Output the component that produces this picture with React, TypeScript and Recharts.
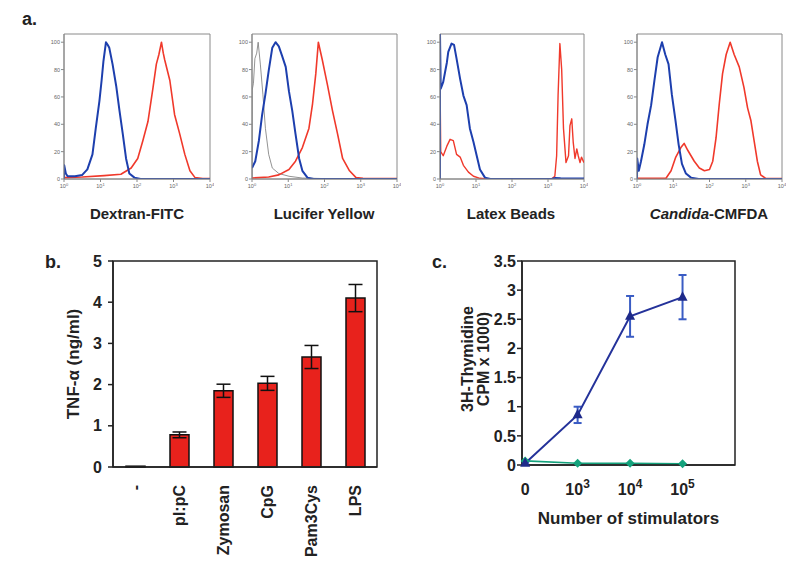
import React from 'react';
import { LineChart, Line, XAxis, YAxis, BarChart, Bar, ErrorBar, ReferenceArea } from 'recharts';

type Pt = [number, number];

// ---- panel a: flow histograms (x = log10 intensity, y = % of max) ----
const decadeTicks = [0, 1, 2, 3, 4];
const countTicks = [0, 20, 40, 60, 80, 100];

const dextranBlue: Pt[] = [
  [0, 0], [0.005, 10], [0.05, 4], [0.1, 2], [0.3, 2], [0.5, 3], [0.64, 7], [0.78, 18], [0.87, 37],
  [0.97, 57], [1.03, 72], [1.08, 86], [1.15, 100], [1.2, 98], [1.24, 96], [1.33, 84], [1.43, 68],
  [1.52, 50], [1.61, 33], [1.7, 15], [1.79, 4], [1.93, 1], [2.1, 0], [4, 0],
];
const dextranRed: Pt[] = [
  [0, 1], [0.5, 1.5], [1.1, 2.5], [1.56, 3.5], [1.84, 8], [2.02, 15], [2.16, 28], [2.3, 42],
  [2.44, 67], [2.53, 84], [2.6, 91], [2.67, 100], [2.72, 92], [2.76, 87], [2.9, 72], [3.03, 47],
  [3.17, 33], [3.31, 18], [3.45, 6], [3.59, 1], [3.8, 0.3], [4, 0.3],
];
const luciferGray: Pt[] = [
  [0, 0], [0.005, 65], [0.04, 70], [0.08, 88], [0.13, 92], [0.17, 100], [0.23, 84], [0.3, 62],
  [0.37, 37], [0.46, 18], [0.56, 8], [0.74, 4], [1.02, 2], [1.39, 0.7], [2, 0.3], [4, 0.2],
];
const luciferBlue: Pt[] = [
  [0, 8], [0.09, 13], [0.19, 28], [0.28, 47], [0.37, 62], [0.46, 79], [0.56, 96], [0.65, 100],
  [0.74, 97], [0.83, 90], [0.93, 82], [1.02, 64], [1.11, 50], [1.2, 33], [1.3, 15], [1.39, 6],
  [1.53, 1], [1.7, 0], [4, 0],
];
const luciferRed: Pt[] = [
  [0, 0.7], [0.46, 1.5], [0.74, 3], [1.02, 7], [1.2, 13], [1.39, 23], [1.57, 37], [1.67, 55],
  [1.76, 77], [1.83, 100], [1.94, 87], [2.08, 69], [2.22, 50], [2.36, 33], [2.5, 15], [2.69, 6],
  [2.87, 1], [3.06, 0.5], [4, 0.3],
];
const latexBlue: Pt[] = [
  [0, 0], [0, 106], [0.02, 66], [0.05, 68], [0.09, 71], [0.14, 78], [0.19, 85], [0.23, 93],
  [0.32, 99], [0.39, 98], [0.46, 88], [0.56, 73], [0.65, 61], [0.74, 54], [0.83, 37], [0.93, 27],
  [1.02, 17], [1.11, 7], [1.25, 1], [1.4, 0], [3.1, 0], [3.2, 0.8], [3.35, 0.5], [4, 0.3],
];
const latexRed: Pt[] = [
  [0, 0], [0, 73], [0.02, 20], [0.09, 17], [0.19, 24], [0.28, 29], [0.37, 28], [0.46, 18],
  [0.56, 16], [0.65, 10], [0.79, 5], [0.93, 2], [1.11, 0.5], [1.3, 0], [3.1, 0], [3.19, 2],
  [3.24, 17], [3.28, 61], [3.33, 99], [3.38, 80], [3.43, 37], [3.5, 12], [3.57, 17], [3.61, 39],
  [3.66, 44], [3.7, 27], [3.75, 15], [3.8, 22], [3.84, 17], [3.89, 12], [3.93, 16], [4, 12],
];
const candidaBlue: Pt[] = [
  [0, 0], [0.005, 15], [0.05, 6], [0.11, 13], [0.2, 25], [0.29, 40], [0.39, 54], [0.48, 72],
  [0.57, 89], [0.69, 100], [0.78, 91], [0.87, 84], [0.96, 62], [1.06, 43], [1.15, 25], [1.24, 11],
  [1.35, 4], [1.49, 1], [1.7, 0], [4, 0],
];
const candidaRed: Pt[] = [
  [0, 0.5], [0.8, 0.5], [0.94, 6], [1.07, 16], [1.21, 23], [1.3, 26], [1.4, 21], [1.49, 17],
  [1.58, 13], [1.72, 8], [1.86, 6], [2.0, 7], [2.09, 13], [2.18, 30], [2.27, 55], [2.36, 77],
  [2.46, 91], [2.57, 100], [2.68, 91], [2.82, 82], [2.95, 67], [3.05, 52], [3.14, 43], [3.23, 28],
  [3.32, 13], [3.41, 3], [3.55, 0.5], [4, 0.3],
];

// ---- panel b: TNF-alpha ----
const stimuli = ['-', 'pI:pC', 'Zymosan', 'CpG', 'Pam3Cys', 'LPS'];
const tnf = [0.02, 0.78, 1.85, 2.03, 2.67, 4.1];
const tnfErr = [0, 0.07, 0.16, 0.17, 0.28, 0.33];
const tnfTicks = [0, 1, 2, 3, 4, 5];

// ---- panel c: proliferation ----
const stimulatorIdx = [0, 1, 2, 3];
const stimulatorLabels = ['0', '3', '4', '5']; // exponents, '0' shown plain
const cpmBlue = [0.03, 0.86, 2.55, 2.88];
const cpmBlueErr = [0.02, 0.14, 0.35, 0.38];
const cpmGreen = [0.07, 0.03, 0.03, 0.02];
const cpmTicks = [0, 0.5, 1, 1.5, 2, 2.5, 3, 3.5];

const BLUE = '#1d3fae';
const RED = '#f0392b';
const FONT = '"Liberation Sans", Arial, sans-serif';

const toXY = (pts: Pt[]) => pts.map(([x, y]) => ({ x, y }));

const DecadeTick = (props: any) => {
  const { x, y, payload } = props;
  return (
    <text x={x} y={y + 5} textAnchor="middle" fontSize={5.5} fill="#666" fontFamily={FONT}>
      10<tspan dy={-2.5} fontSize={4}>{payload.value}</tspan>
    </text>
  );
};

interface FlowSeries {
  pts: Pt[];
  color: string;
  width: number;
}

const FlowPanel: React.FC<{ left: number; top: number; w: number; h: number; series: FlowSeries[] }> = ({
  left, top, w, h, series,
}) => (
  <div style={{ position: 'absolute', left: left - 30, top: top - 4 }}>
    <LineChart width={w + 34} height={h + 24} margin={{ top: 4, right: 4, left: 0, bottom: 0 }}>
      <XAxis
        dataKey="x" type="number" domain={[0, 4]} ticks={decadeTicks} height={20}
        tick={<DecadeTick />} tickSize={3} tickMargin={1} stroke="#888" allowDataOverflow
      />
      <YAxis
        type="number" domain={[0, 106]} ticks={countTicks} width={30} allowDataOverflow
        tick={{ fontSize: 5.5, fill: '#666', fontFamily: FONT }} tickSize={3} tickMargin={1} stroke="#888"
      />
      {series.map((s, i) => (
        <Line
          key={i} data={toXY(s.pts)} dataKey="y" stroke={s.color} strokeWidth={s.width}
          dot={false} isAnimationActive={false} strokeLinejoin="round"
        />
      ))}
      <ReferenceArea y1={0} y2={106} fill="none" stroke="#8a8a8a" strokeWidth={1} ifOverflow="visible" />
    </LineChart>
  </div>
);

const StimTick = (props: any) => {
  const { x, y, payload } = props;
  return (
    <text
      x={x} y={y + 10} transform={`rotate(-90 ${x} ${y + 10})`} textAnchor="end" dominantBaseline="central"
      fontSize={16} fontWeight="bold" fill="#222" fontFamily={FONT}
    >
      {payload.value}
    </text>
  );
};

const CountTick = (props: any) => {
  const { x, y, payload } = props;
  const label = stimulatorLabels[payload.value];
  return (
    <text x={x} y={y + 30} textAnchor="middle" fontSize={16} fontWeight="bold" fill="#222" fontFamily={FONT}>
      {label === '0' ? '0' : (
        <>
          10<tspan dy={-7} fontSize={12}>{label}</tspan>
        </>
      )}
    </text>
  );
};

const TnfLabel = (props: any) => {
  const { viewBox } = props;
  const cy = viewBox.y + viewBox.height / 2;
  return (
    <text
      x={33} y={cy} transform={`rotate(-90 33 ${cy})`} textAnchor="middle" dominantBaseline="central"
      fontSize={17} fontWeight="bold" fill="#222" fontFamily={FONT}
    >
      TNF-α (ng/ml)
    </text>
  );
};

const CpmLabel = (props: any) => {
  const { viewBox } = props;
  const cy = viewBox.y + viewBox.height / 2 - 4;
  return (
    <g fontSize={16} fontWeight="bold" fill="#222" fontFamily={FONT}>
      <text x={37} y={cy} transform={`rotate(-90 37 ${cy})`} textAnchor="middle" dominantBaseline="central">
        3H-Thymidine
      </text>
      <text x={53} y={cy} transform={`rotate(-90 53 ${cy})`} textAnchor="middle" dominantBaseline="central">
        CPM x 1000)
      </text>
    </g>
  );
};

const Triangle = (props: any) => {
  const { cx, cy } = props;
  if (cx == null || cy == null) return null;
  return <polygon points={`${cx},${cy - 6} ${cx - 5},${cy + 3.5} ${cx + 5},${cy + 3.5}`} fill="#1e2a8a" />;
};

const Diamond = (props: any) => {
  const { cx, cy } = props;
  if (cx == null || cy == null) return null;
  return <polygon points={`${cx},${cy - 4.5} ${cx + 4.5},${cy} ${cx},${cy + 4.5} ${cx - 4.5},${cy}`} fill="#14a27c" />;
};

const textStyle: React.CSSProperties = {
  position: 'absolute', fontFamily: FONT, fontWeight: 'bold', color: '#222', whiteSpace: 'nowrap',
};

export default function App() {
  const tnfData = stimuli.map((name, i) => ({ name, value: tnf[i], err: tnfErr[i] }));
  const cpmData = stimulatorIdx.map((idx, i) => ({
    idx, blue: cpmBlue[i], blueErr: cpmBlueErr[i], green: cpmGreen[i],
  }));

  return (
    <div style={{ position: 'absolute', left: 0, top: 0, width: 800, height: 564, background: '#fff', overflow: 'hidden' }}>
      <div style={{ ...textStyle, left: 22, top: 9, fontSize: 18 }}>a.</div>
      <div style={{ ...textStyle, left: 45, top: 252, fontSize: 18 }}>b.</div>
      <div style={{ ...textStyle, left: 432, top: 252, fontSize: 18 }}>c.</div>

      <FlowPanel left={64} top={34} w={146} h={145} series={[
        { pts: dextranRed, color: RED, width: 1.6 },
        { pts: dextranBlue, color: BLUE, width: 2 },
      ]} />
      <FlowPanel left={252} top={34} w={145} h={145} series={[
        { pts: luciferGray, color: '#777', width: 0.8 },
        { pts: luciferRed, color: RED, width: 1.6 },
        { pts: luciferBlue, color: BLUE, width: 2 },
      ]} />
      <FlowPanel left={440} top={34} w={144} h={145} series={[
        { pts: latexRed, color: RED, width: 1.4 },
        { pts: latexBlue, color: BLUE, width: 2 },
      ]} />
      <FlowPanel left={637} top={34} w={145} h={145} series={[
        { pts: candidaRed, color: RED, width: 1.6 },
        { pts: candidaBlue, color: BLUE, width: 2 },
      ]} />

      <div style={{ ...textStyle, left: 137, top: 213, fontSize: 15, transform: 'translate(-50%, -50%)' }}>Dextran-FITC</div>
      <div style={{ ...textStyle, left: 324, top: 213, fontSize: 15, transform: 'translate(-50%, -50%)' }}>Lucifer Yellow</div>
      <div style={{ ...textStyle, left: 511, top: 213, fontSize: 15, transform: 'translate(-50%, -50%)' }}>Latex Beads</div>
      <div style={{ ...textStyle, left: 709, top: 213, fontSize: 15, transform: 'translate(-50%, -50%)' }}>
        <i>Candida</i>-CMFDA
      </div>

      <div style={{ position: 'absolute', left: 40, top: 251 }}>
        <BarChart width={342} height={313} data={tnfData} margin={{ top: 10, right: 5, left: 0, bottom: 0 }} barCategoryGap="0%">
          <XAxis dataKey="name" height={97} tick={<StimTick />} tickLine={false} stroke="#222" strokeWidth={1.5} interval={0} />
          <YAxis
            type="number" domain={[0, 5]} ticks={tnfTicks} width={73} stroke="#222" strokeWidth={1.5}
            tick={{ fontSize: 16, fontWeight: 'bold', fill: '#222', fontFamily: FONT }} tickSize={5} tickMargin={6}
            label={<TnfLabel />}
          />
          <Bar dataKey="value" fill="#e8221c" stroke="#111" strokeWidth={1.5} barSize={19} isAnimationActive={false}>
            <ErrorBar dataKey="err" width={7} stroke="#111" strokeWidth={1.5} direction="y" />
          </Bar>
          <ReferenceArea y1={0} y2={5} fill="none" stroke="#222" strokeWidth={1.5} ifOverflow="visible" />
        </BarChart>
      </div>

      <div style={{ position: 'absolute', left: 430, top: 251 }}>
        <LineChart width={310} height={313} data={cpmData} margin={{ top: 10, right: 5, left: 0, bottom: 0 }}>
          <XAxis
            dataKey="idx" type="number" domain={[-0.06, 4]} ticks={stimulatorIdx} height={99}
            tick={<CountTick />} tickLine={false} tickSize={0} tickMargin={0} stroke="#222" strokeWidth={1.5}
            label={{ value: 'Number of stimulators', position: 'insideBottom', offset: 40, fontSize: 17, fontWeight: 'bold', fill: '#222', fontFamily: FONT }}
          />
          <YAxis
            type="number" domain={[0, 3.5]} ticks={cpmTicks} width={92} stroke="#222" strokeWidth={1.5}
            tick={{ fontSize: 16, fontWeight: 'bold', fill: '#222', fontFamily: FONT }} tickSize={5} tickMargin={1}
            label={<CpmLabel />}
          />
          <ReferenceArea y1={0} y2={3.5} fill="none" stroke="#222" strokeWidth={1.5} ifOverflow="visible" />
          <Line dataKey="green" stroke="#14a27c" strokeWidth={1.6} dot={<Diamond />} isAnimationActive={false} />
          <Line dataKey="blue" stroke="#24329a" strokeWidth={2} dot={<Triangle />} isAnimationActive={false}>
            <ErrorBar dataKey="blueErr" width={4} stroke="#3a5cc4" strokeWidth={2} direction="y" />
          </Line>
        </LineChart>
      </div>
    </div>
  );
}
